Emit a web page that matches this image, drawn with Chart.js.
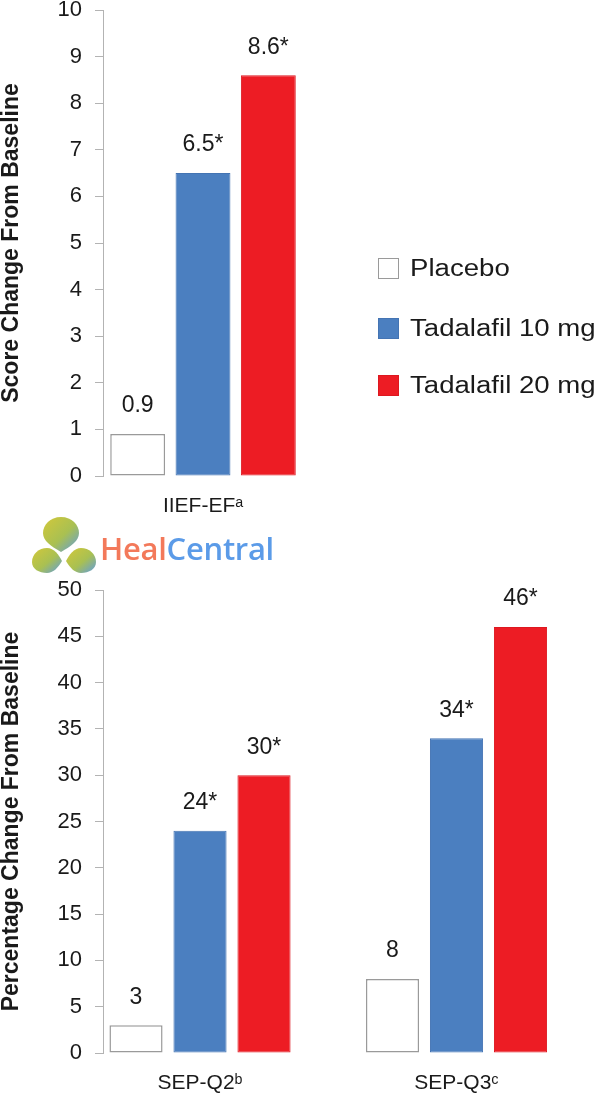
<!DOCTYPE html>
<html><head><meta charset="utf-8">
<script src="https://cdn.jsdelivr.net/npm/chart.js@4.4.1/dist/chart.umd.min.js"></script>
<style>
html,body{margin:0;padding:0;background:#fff;}
#wrap{position:relative;width:600px;height:1093px;overflow:hidden;background:#fff;}
#c1{position:absolute;left:0;top:0;}
#c2{position:absolute;left:0;top:560px;}
#legend{position:absolute;left:378px;top:0;font-family:"Liberation Sans",Arial,sans-serif;font-size:23px;color:#1a1a1a;}
.item{position:absolute;left:0;white-space:nowrap;display:flex;align-items:center;height:30px;}
.box{width:21px;height:21px;box-sizing:border-box;margin-right:11px;flex:none;}
.lbl{display:inline-block;transform:scaleX(1.2);transform-origin:0 50%;}
#logo{position:absolute;left:0;top:510px;width:300px;height:75px;}
#logo .txt{position:absolute;left:100px;top:18px;font-family:"Open Sans","Noto Sans",sans-serif;font-weight:600;font-size:31px;line-height:40px;letter-spacing:-0.3px;}
</style></head>
<body><div id="wrap">
<canvas id="c1" width="600" height="520"></canvas>
<canvas id="c2" width="600" height="533"></canvas>
<div id="legend"></div>
<div id="logo">
<svg width="100" height="75" style="position:absolute;left:0;top:0">
<defs><linearGradient id="g" x1="0" y1="0" x2="1" y2="1"><stop offset="0" stop-color="#d2c83a"/><stop offset="0.55" stop-color="#a9c052"/><stop offset="1" stop-color="#5f9ce0"/></linearGradient></defs>
<path d="M61 7 C72 7 79 15 79 23 C79 31 71 36 61 42 C51 36 43 31 43 23 C43 15 50 7 61 7 Z" fill="url(#g)"/>
<path d="M32 52 C32 44 39 38 47 38 C54 38 59 45 62 51 C58 58 53 63 47 63 C39 63 32 59 32 52 Z" fill="url(#g)"/>
<path d="M96 52 C96 44 89 38 81 38 C74 38 69 45 66 51 C70 58 75 63 81 63 C89 63 96 59 96 52 Z" fill="url(#g)"/>
</svg>
<div class="txt"><span style="color:#f3795a">Heal</span><span style="color:#5b9be8">Central</span></div>
</div>
</div>
<script>
// ---- data ----
const seriesNames = ['Placebo', 'Tadalafil 10 mg', 'Tadalafil 20 mg'];
const topCategories = ['IIEF-EF\u1d43'];
const topPlacebo = [0.9];
const topTad10 = [6.5];
const topTad20 = [8.6];
const bottomCategories = ['SEP-Q2\u1d47', 'SEP-Q3\u1d9c'];
const bottomPlacebo = [3, 8];
const bottomTad10 = [24, 34];
const bottomTad20 = [30, 46];
const significant = [false, true, true];
const topAxisTitle = 'Score Change From Baseline';
const bottomAxisTitle = 'Percentage Change From Baseline';
const topAxisMax = 10, topAxisStep = 1;
const bottomAxisMax = 50, bottomAxisStep = 5;

// ---- styles ----
const FONT = '"Liberation Sans", Arial, sans-serif';
const fills = ['#ffffff', '#4b7fc0', '#ed1c24'];
const borders = ['#9a9a9a', '#4474b3', '#dd1820'];
const borderWidths = [1.5, 1, 1];
const TEXT = '#1a1a1a';
const AXIS = '#b3b3b3';

function fmt(v, sig) { return String(v) + (sig ? '*' : ''); }

const valueLabels = {
  id: 'valueLabels',
  afterDatasetsDraw(chart) {
    const ctx = chart.ctx;
    ctx.save();
    ctx.font = '23px ' + FONT;
    ctx.fillStyle = TEXT;
    ctx.textAlign = 'center';
    ctx.textBaseline = 'middle';
    chart.data.datasets.forEach((ds, i) => {
      const meta = chart.getDatasetMeta(i);
      meta.data.forEach((el, j) => {
        const raw = ds.data[j];
        const v = typeof raw === 'object' ? raw.y : raw;
        ctx.fillText(fmt(v, significant[i]), el.x, el.y - 28);
      });
    });
    ctx.restore();
  }
};

function yAxis(max, step, title) {
  return {
    min: 0, max: max,
    ticks: { stepSize: step, padding: 13, color: TEXT, font: { family: FONT, size: 22, lineHeight: 1 } },
    grid: { display: true, drawOnChartArea: false, drawTicks: true, tickLength: 8, color: AXIS },
    border: { display: true, color: AXIS, width: 1 },
    title: { display: true, text: title, color: TEXT, font: { family: FONT, size: 23, weight: 'bold', lineHeight: 1 }, padding: 0 },
    afterFit(s) { s.width = 103; s.paddingTop = 0; s.paddingBottom = 0; }
  };
}

function makeDatasets(arrs, mapper, catPct, barPct) {
  return arrs.map((a, i) => ({
    label: seriesNames[i],
    data: a.map(mapper),
    backgroundColor: fills[i],
    borderColor: borders[i],
    borderWidth: borderWidths[i],
    borderSkipped: false,
    categoryPercentage: catPct,
    barPercentage: barPct
  }));
}

const common = {
  responsive: false, animation: false, devicePixelRatio: 1,
  plugins: { legend: { display: false }, tooltip: { enabled: false } }
};

const chart1 = new Chart(document.getElementById('c1'), {
  type: 'bar',
  data: {
    labels: topCategories,
    datasets: makeDatasets([topPlacebo, topTad10, topTad20], v => v, 0.98, 0.84)
  },
  options: Object.assign({}, common, {
    layout: { padding: { top: 10, right: 297, left: 0, bottom: 0 } },
    scales: {
      x: {
        type: 'category', offset: true,
        grid: { display: false, drawTicks: false },
        border: { display: false },
        ticks: { padding: 20, color: TEXT, font: { family: FONT, size: 21, lineHeight: 1 } },
        afterFit(s) { s.height = 44; s.paddingLeft = 0; s.paddingRight = 0; }
      },
      y: yAxis(topAxisMax, topAxisStep, topAxisTitle)
    }
  }),
  plugins: [valueLabels]
});

const chart2 = new Chart(document.getElementById('c2'), {
  type: 'bar',
  data: {
    datasets: makeDatasets([bottomPlacebo, bottomTad10, bottomTad20], (v, j) => ({ x: j, y: v }), 0.7485, 0.83)
  },
  options: Object.assign({}, common, {
    layout: { padding: { top: 30, right: 0, left: 0, bottom: 0 } },
    scales: {
      x: {
        type: 'linear', offset: false, min: -0.3782, max: 1.5594,
        grid: { display: false, drawTicks: false },
        border: { display: false },
        afterBuildTicks(s) { s.ticks = bottomCategories.map((c, i) => ({ value: i })); },
        ticks: { padding: 20, color: TEXT, font: { family: FONT, size: 21, lineHeight: 1 },
                 callback: (v) => bottomCategories[v] },
        afterFit(s) { s.height = 40; s.paddingLeft = 0; s.paddingRight = 0; }
      },
      y: yAxis(bottomAxisMax, bottomAxisStep, bottomAxisTitle)
    }
  }),
  plugins: [valueLabels]
});

// HTML legend from chart datasets
const legend = document.getElementById('legend');
const rowTops = [253, 313, 370];
chart1.data.datasets.forEach((ds, i) => {
  const item = document.createElement('div');
  item.className = 'item';
  item.style.top = rowTops[i] + 'px';
  const box = document.createElement('span');
  box.className = 'box';
  box.style.background = ds.backgroundColor;
  box.style.border = (i === 0 ? 1.5 : 1) + 'px solid ' + ds.borderColor;
  const t = document.createElement('span');
  t.className = 'lbl';
  t.textContent = ds.label;
  item.appendChild(box); item.appendChild(t);
  legend.appendChild(item);
});
</script>
</body></html>
